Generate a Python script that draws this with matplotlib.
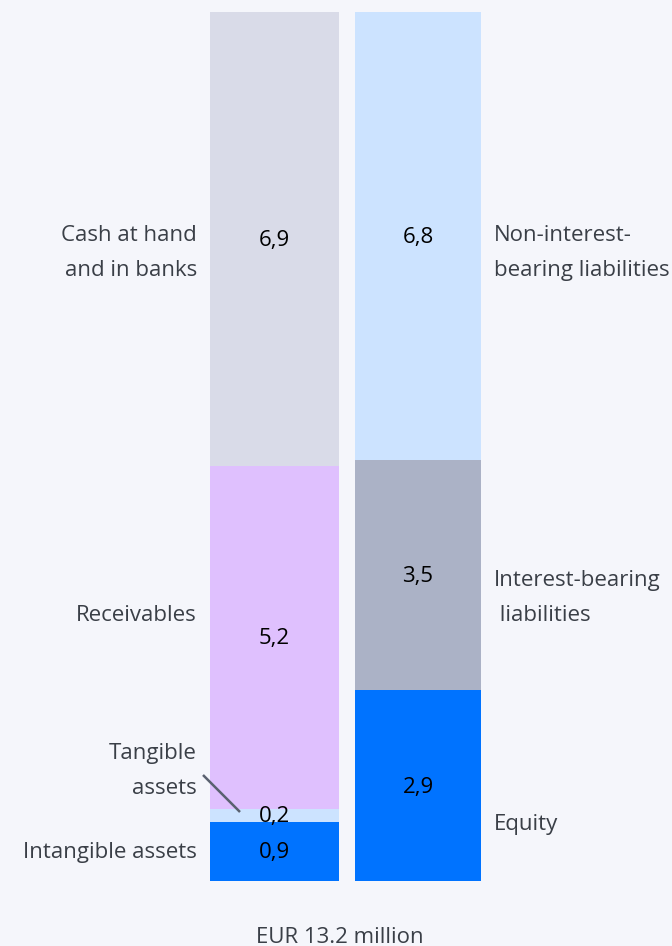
import matplotlib.pyplot as plt

# balance sheet, EUR million
assets = ["Intangible assets", "Tangible\nassets", "Receivables", "Cash at hand\nand in banks"]
asset_values = [0.9, 0.2, 5.2, 6.9]
asset_colors = ["#0073FF", "#CCE3FF", "#DFC0FE", "#D9DBE8"]

liabilities = ["Equity", "Interest-bearing\n liabilities", "Non-interest-\nbearing liabilities"]
liability_values = [2.9, 3.5, 6.8]
liability_colors = ["#0073FF", "#ABB2C6", "#CCE3FF"]

total_label = "EUR 13.2 million"

bg = "#F5F6FB"
txt = "#3A3F47"
plt.rcParams['font.family'] = ['Open Sans', 'DejaVu Sans']

W, H = 672, 946
fig = plt.figure(figsize=(W / 100, H / 100), dpi=100, facecolor=bg)
ax = fig.add_axes([0, 0, 1, 1], facecolor=bg)
ax.axis("off")

total = sum(asset_values)
base_px, top_px = 881, 12
scale = (base_px - top_px) / total
ax.set_xlim(0, W)
ax.set_ylim(-(H - base_px) / scale, total + top_px / scale)

def py(p):
    # pixel row -> data y
    return (base_px - p) / scale

left_x, left_w = 274.5, 129
right_x, right_w = 418, 126
fs = 16
ls = 1.88
nudge = 1.5 / scale  # small downward shift for text centring

def fmt(v):
    return f"{v:.1f}".replace(".", ",")

# left stack
b = 0
for v, c in zip(asset_values, asset_colors):
    ax.bar(left_x, v, width=left_w, bottom=b, color=c, linewidth=0)
    ax.text(left_x, b + v / 2 - nudge, fmt(v), ha="center", va="center", fontsize=fs, color="black")
    b += v

# right stack
b = 0
for v, c in zip(liability_values, liability_colors):
    ax.bar(right_x, v, width=right_w, bottom=b, color=c, linewidth=0)
    ax.text(right_x, b + v / 2 - nudge, fmt(v), ha="center", va="center", fontsize=fs, color="black")
    b += v

# category labels
asset_label_px = [852, 771, 615, 253]
for name, p in zip(assets, asset_label_px):
    ax.text(197, py(p), name, ha="right", va="center", fontsize=fs, color=txt, linespacing=ls)

liab_label_px = [824, 598, 253]
for name, p in zip(liabilities, liab_label_px):
    ax.text(494, py(p), name, ha="left", va="center", fontsize=fs, color=txt, linespacing=ls)

# leader line for tangible assets
ax.plot([203, 240], [py(775), py(812)], color="#5A6170", lw=1.8, solid_capstyle="butt")

ax.text(340, py(937), total_label, ha="center", va="center", fontsize=fs, color=txt)

fig.savefig("out.png", dpi=100, facecolor=bg)
